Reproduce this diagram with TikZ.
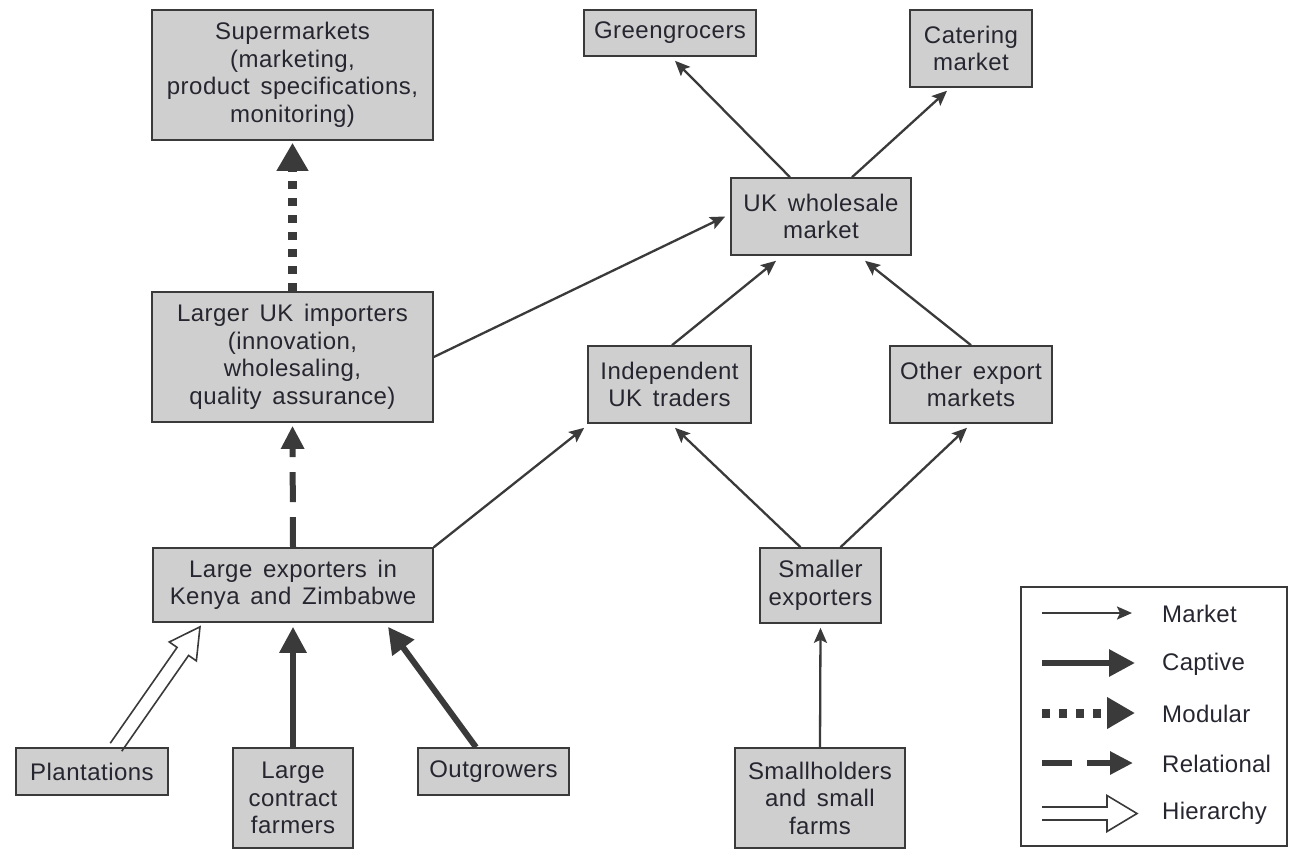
\documentclass[tikz,border=0pt]{standalone}
\usepackage{fontspec}
\setmainfont{Liberation Sans}[LetterSpace=2.0, WordSpace=1.5]
\newfontfamily\legfont{Liberation Sans}[LetterSpace=1.0]
\usetikzlibrary{arrows.meta,calc}
\definecolor{boxfill}{HTML}{CFCFCF}
\definecolor{ink}{HTML}{3A3A3A}
\definecolor{txt}{HTML}{262630}
\newcommand{\hierarr}[5]{%
  \coordinate (hA) at #1;
  \coordinate (hB) at #2;
  \coordinate (hC) at ($(hB)!#5!(hA)$);
  \fill[white] (hB) -- ($(hC)!#4!90:(hB)$) -- ($(hC)!#4!-90:(hB)$) -- cycle;
  \draw[hierline] ($(hA)!#3!90:(hB)$) -- ($(hC)!#3!90:(hB)$) -- ($(hC)!#4!90:(hB)$) -- (hB)
     -- ($(hC)!#4!-90:(hB)$) -- ($(hC)!#3!-90:(hB)$) -- ($(hA)!#3!-90:(hB)$);
}
\begin{document}
\begin{tikzpicture}[x=1pt,y=-1pt,
  box/.style={draw=ink, fill=boxfill, line width=1.6pt, align=center, inner sep=0pt,
    font=\fontsize{24}{27.5}\selectfont, text=txt},
  market/.style={draw=ink, line width=2.3pt, -{Stealth[length=15pt,width=13pt,inset=3pt]}},
  captive/.style={draw=ink, line width=6pt, -{Triangle[length=26pt,width=26pt]}},
  modular/.style={draw=ink, line width=9pt, dash pattern=on 8pt off 9pt, -{Triangle[length=28pt,width=30pt]}},
  relational/.style={draw=ink, line width=6pt, dash pattern=on 30pt off 15pt, -{Triangle[length=23pt,width=22pt]}},
  hierline/.style={draw=ink, line width=1.6pt, line join=miter},
  legtext/.style={anchor=west, text=txt, inner sep=0pt, font=\legfont\fontsize{24}{28}\selectfont}
]
\useasboundingbox (0,0) rectangle (1289,849);

% boxes
\node[box, minimum width=281pt, minimum height=130pt] (sup) at (292.5,75)
  {Supermarkets\\(marketing,\\product specifications,\\monitoring)};
\node[box, minimum width=281pt, minimum height=130pt] (imp) at (292.5,357)
  {Larger UK importers\\(innovation,\\wholesaling,\\quality assurance)};
\node[box, minimum width=280pt, minimum height=74pt] (lexp) at (293,585)
  {Large exporters in\\Kenya and Zimbabwe};
\node[box, minimum width=152pt, minimum height=47pt] (plant) at (92,771.5) {Plantations};
\node[box, minimum width=120pt, minimum height=100pt] (lcf) at (293,798) {Large\\contract\\farmers};
\node[box, minimum width=151pt, minimum height=47pt] (outg) at (493.5,771.5) {Outgrowers};
\node[box, minimum width=172pt, minimum height=46pt] (green) at (670,33) {Greengrocers};
\node[box, minimum width=122pt, minimum height=77pt] (cater) at (971,48.5) {Catering\\market};
\node[box, minimum width=180pt, minimum height=77pt] (whole) at (821,216.5) {UK wholesale\\market};
\node[box, minimum width=163pt, minimum height=77pt] (indep) at (669.5,384.5) {Independent\\UK traders};
\node[box, minimum width=162pt, minimum height=77pt] (other) at (971,384.5) {Other export\\markets};
\node[box, minimum width=121pt, minimum height=75pt] (smexp) at (820.5,585.5) {Smaller\\exporters};
\node[box, minimum width=170pt, minimum height=100pt] (small) at (820,798) {Smallholders\\and small\\farms};

% connectors
\draw[market] ([xshift=-31pt]whole.north) -- ([xshift=5pt,yshift=-4pt]green.south);
\draw[market] ([xshift=31pt]whole.north) -- ([xshift=-24pt,yshift=-3pt]cater.south);
\draw[market] (imp.east) -- ([xshift=-5pt]whole.west);
\draw[market] ([xshift=2.5pt]indep.north) -- ([xshift=-45pt,yshift=-5pt]whole.south);
\draw[market] (other.north) -- ([xshift=44pt,yshift=-5pt]whole.south);
\draw[market] (lexp.north east) -- ([xshift=-3pt,yshift=-4pt]indep.south west);
\draw[market] ([xshift=-20pt]smexp.north) -- ([xshift=5.5pt,yshift=-4pt]indep.south);
\draw[market] ([xshift=20pt]smexp.north) -- ([xshift=-4pt,yshift=-4pt]other.south);
\draw[market] (small.north) -- ([yshift=-4pt]smexp.south);
\draw[modular] (imp.north) -- ([yshift=-2pt]sup.south);
\draw[relational] (lexp.north) -- ([yshift=-3pt]imp.south);
\draw[captive] (lcf.north) -- ([yshift=-4pt]lexp.south);
\draw[captive] ([xshift=-17.5pt]outg.north) -- ([xshift=95pt,yshift=-4pt]lexp.south);
\hierarr{([xshift=24pt]plant.north)}{([xshift=-93pt,yshift=-4pt]lexp.south)}{7pt}{16.5pt}{30pt}

% legend
\node[draw=ink, line width=1.6pt, minimum width=266pt, minimum height=259pt, inner sep=0pt] (legend) at (1154,716.5) {};
\coordinate (la1) at (1042,613); \coordinate (lb1) at (1132,613);
\coordinate (la2) at (1042,663); \coordinate (lb2) at (1135,663);
\coordinate (la3) at (1042,713); \coordinate (lb3) at (1135,713);
\coordinate (la4) at (1042,763); \coordinate (lb4) at (1133,763);
\coordinate (la5) at (1042,813.5); \coordinate (lb5) at (1137,813.5);
\draw[market] (la1) -- (lb1);
\draw[captive] (la2) -- (lb2);
\draw[modular] (la3) -- (lb3);
\draw[relational] (la4) -- (lb4);
\hierarr{(la5)}{(lb5)}{6.5pt}{18pt}{30pt}
\node[legtext] (t1) at (1162,614) {Market};
\node[legtext] (t2) at (1162,664) {Captive};
\node[legtext] (t3) at (1162,714) {Modular};
\node[legtext] (t4) at (1162,764) {Relational};
\node[legtext] (t5) at (1162,813) {Hierarchy};
\end{tikzpicture}
\end{document}
